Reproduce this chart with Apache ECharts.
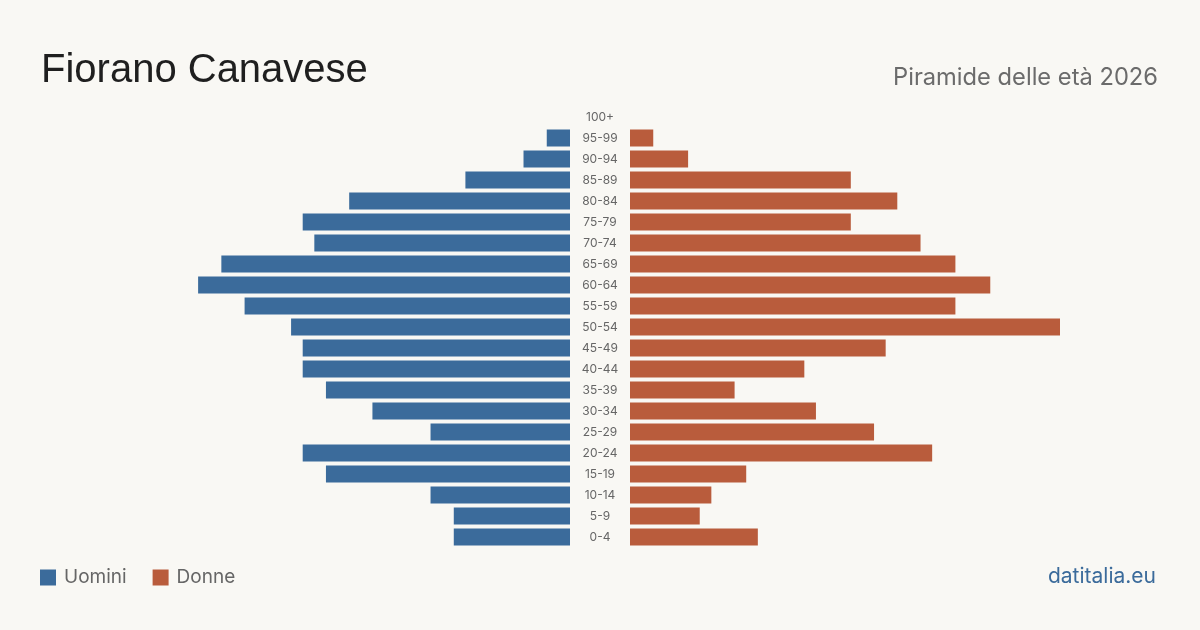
<!DOCTYPE html>
<html>
<head>
<meta charset="utf-8">
<script src="https://cdn.jsdelivr.net/npm/echarts@6/dist/echarts.min.js"></script>
<style>
  html, body { margin: 0; padding: 0; background: #f9f8f4; }
  #chart { width: 1200px; height: 630px; }
</style>
</head>
<body>
<div id="chart"></div>
<script>
'use strict';

// classi d'età, dall'alto in basso
var age_groups = ['100+', '95-99', '90-94', '85-89', '80-84', '75-79', '70-74', '65-69',
    '60-64', '55-59', '50-54', '45-49', '40-44', '35-39', '30-34', '25-29',
    '20-24', '15-19', '10-14', '5-9', '0-4'];
var uomini = [0, 2, 4, 9, 19, 23, 22, 30, 32, 28, 24, 23, 23, 21, 17, 12, 23, 21, 12, 10, 10];
var donne  = [0, 2, 5, 19, 23, 19, 25, 28, 31, 28, 37, 22, 15, 9, 16, 21, 26, 10, 7, 6, 11];

var BLUE = '#3b6b9b';
var ORANGE = '#b95c3c';
var MAX = 37;
var FONT = 'Inter, "Liberation Sans", sans-serif';

var chart = echarts.init(document.getElementById('chart'));

var option = {
    backgroundColor: '#f9f8f4',
    animation: false,
    textStyle: { fontFamily: FONT },
    title: [
        {
            text: 'Fiorano Canavese',
            left: 41, top: 51, padding: 0,
            textStyle: { fontSize: 40, fontWeight: 'normal', color: '#1f1f1f', fontFamily: '"Liberation Sans", Arial, sans-serif' }
        },
        {
            text: 'Piramide delle età 2026',
            right: 42, top: 66, padding: 0,
            textStyle: { fontSize: 23.7, fontWeight: 'normal', color: '#6b6b6b', fontFamily: FONT }
        },
        {
            text: 'datitalia.eu',
            right: 44, top: 566, padding: 0,
            textStyle: { fontSize: 21, fontWeight: 'normal', color: BLUE, fontFamily: FONT }
        }
    ],
    legend: {
        left: 40, top: 568, padding: 0,
        icon: 'rect',
        itemWidth: 16, itemHeight: 16,
        itemGap: 26,
        textStyle: { fontSize: 19, color: '#666', padding: [0, 0, 0, 3] },
        data: ['Uomini', 'Donne']
    },
    grid: [
        { left: 140, width: 430, top: 106.5, height: 441 },
        { left: 630, width: 430, top: 106.5, height: 441 }
    ],
    xAxis: [
        { gridIndex: 0, type: 'value', min: 0, max: MAX, inverse: true, show: false },
        { gridIndex: 1, type: 'value', min: 0, max: MAX, show: false }
    ],
    yAxis: [
        {
            gridIndex: 0, type: 'category', data: age_groups, inverse: true,
            axisLine: { show: false }, axisTick: { show: false }, axisLabel: { show: false }
        },
        {
            gridIndex: 1, type: 'category', data: age_groups, inverse: true,
            axisLine: { show: false }, axisTick: { show: false },
            axisLabel: { margin: 30, align: 'center', fontSize: 12, color: '#666' }
        }
    ],
    series: [
        {
            name: 'Uomini', type: 'bar', xAxisIndex: 0, yAxisIndex: 0,
            data: uomini, barWidth: 17, itemStyle: { color: BLUE }
        },
        {
            name: 'Donne', type: 'bar', xAxisIndex: 1, yAxisIndex: 1,
            data: donne, barWidth: 17, itemStyle: { color: ORANGE }
        }
    ]
};

chart.setOption(option);
</script>
</body>
</html>
